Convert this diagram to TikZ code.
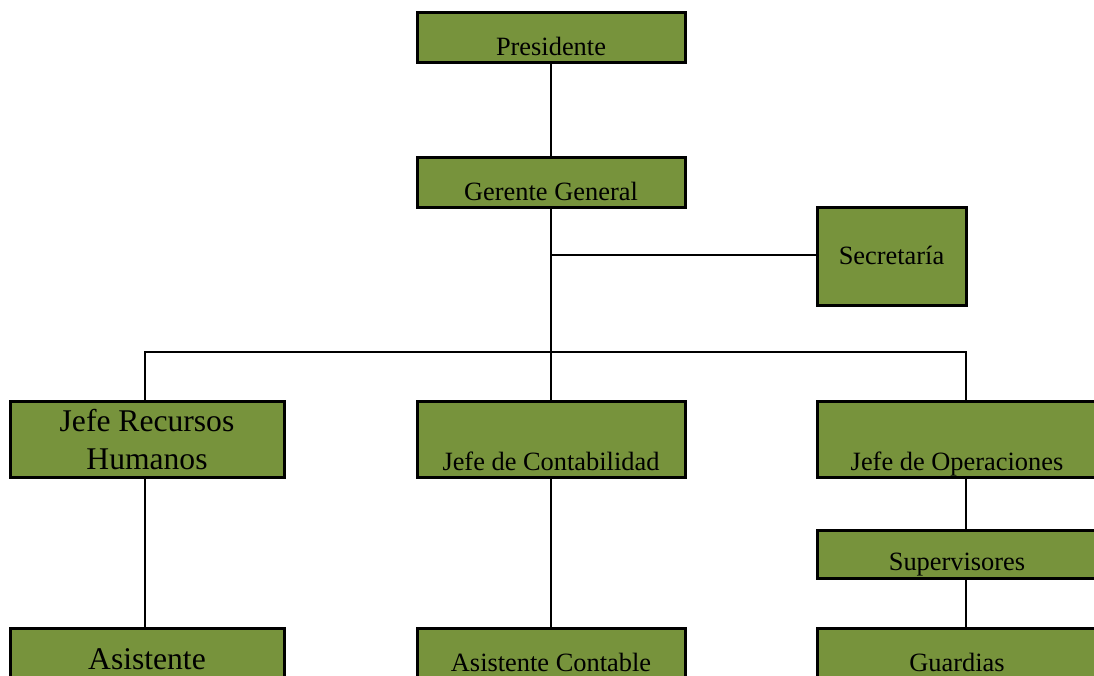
\documentclass[tikz,border=0pt]{standalone}
\usepackage{fontspec}
\setmainfont{Liberation Serif}
\definecolor{olivebox}{HTML}{77933C}
\tikzset{
  unitbox/.style={draw=black, line width=3pt, fill=olivebox, inner sep=0pt},
  link/.style={draw=black, line width=2pt},
  lbl/.style={anchor=base, inner sep=0pt, font=\fontsize{26.4}{30}\selectfont},
  biglbl/.style={anchor=base, inner sep=0pt, font=\fontsize{31.6}{36}\selectfont},
}
\begin{document}
\begin{tikzpicture}[x=1pt, y=-1pt]
\useasboundingbox (0,0) rectangle (1094,675);
\clip (0,0) rectangle (1094,675);
\fill[white] (0,0) rectangle (1094,675);

% boxes
\node[unitbox, minimum width=268pt, minimum height=50pt] (pres) at (551,37) {};
\node[unitbox, minimum width=268pt, minimum height=50pt] (ger) at (551,182) {};
\node[unitbox, minimum width=149pt, minimum height=98pt] (sec) at (891.5,256) {};
\node[unitbox, minimum width=274pt, minimum height=76pt] (rrhh) at (147,439) {};
\node[unitbox, minimum width=268pt, minimum height=76pt] (cont) at (551,439) {};
\node[unitbox, minimum width=280pt, minimum height=76pt] (oper) at (957,439) {};
\node[unitbox, minimum width=280pt, minimum height=48pt] (sup) at (957,554) {};
\node[unitbox, minimum width=274pt, minimum height=90pt] (asis) at (147,673) {};
\node[unitbox, minimum width=268pt, minimum height=90pt] (asco) at (551,673) {};
\node[unitbox, minimum width=280pt, minimum height=90pt] (guar) at (957,673) {};

% labels
\node[lbl] (tpres) at (551,55) {Presidente};
\node[lbl] (tger) at (551,200) {Gerente General};
\node[lbl] (tsec) at (891.5,264) {Secretaría};
\node[biglbl] (trrhh1) at (147,431) {Jefe Recursos};
\node[biglbl] (trrhh2) at (147,469) {Humanos};
\node[lbl] (tcont) at (551,470) {Jefe de Contabilidad};
\node[lbl] (toper) at (957,470) {Jefe de Operaciones};
\node[lbl] (tsup) at (957,570) {Supervisores};
\node[biglbl] (tasis) at (147,669) {Asistente};
\node[lbl] (tasco) at (551,671) {Asistente Contable};
\node[lbl] (tguar) at (957,671) {Guardias};

% connectors
\coordinate (jsec) at (551,255);
\coordinate (bus) at (551,352);
\draw[link] (pres.south) -- (ger.north);
\draw[link] (ger.south) -- (bus);
\draw[link] (jsec) -- (sec.west |- jsec);
\draw[link] (rrhh.north -| 145,0) |- (bus) -| (966,401);
\draw[link] (bus) -- (cont.north);
\draw[link] (145,477) -- (145,628);
\draw[link] (cont.south) -- (asco.north);
\draw[link] (966,477) -- (966,530);
\draw[link] (966,578) -- (966,628);
\end{tikzpicture}
\end{document}
